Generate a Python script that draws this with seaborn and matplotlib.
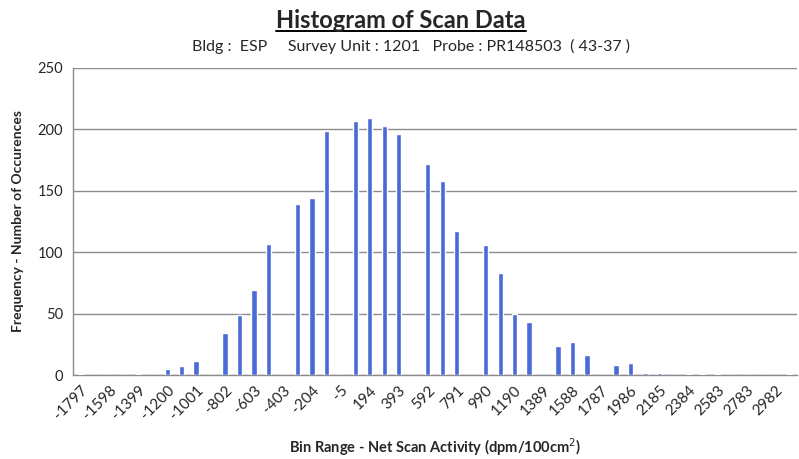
import matplotlib
matplotlib.use("Agg")
import matplotlib.pyplot as plt
import seaborn as sns
import pandas as pd
from matplotlib.lines import Line2D

bins = [-1797, -1697, -1598, -1498, -1399, -1299, -1200, -1100, -1001, -901,
        -802, -702, -603, -503, -403, -304, -204, -105, -5, 94,
        194, 293, 393, 492, 592, 691, 791, 890, 990, 1090,
        1190, 1289, 1389, 1488, 1588, 1687, 1787, 1886, 1986, 2085,
        2185, 2284, 2384, 2483, 2583, 2683, 2783, 2882, 2982, 3081]
counts = [1, 0, 0, 0, 1, 0, 5, 7, 11, 0,
          34, 49, 69, 107, 0, 139, 144, 199, 0, 207,
          209, 203, 196, 0, 172, 158, 117, 0, 106, 83,
          50, 43, 0, 24, 27, 16, 0, 8, 10, 2,
          2, 0, 1, 1, 1, 0, 0, 0, 0, 1]
yticks = [0, 50, 100, 150, 200, 250]

sns.set_theme(style="white")
plt.rcParams['font.family'] = ['Lato', 'DejaVu Sans']

labels = [str(b) for b in bins]
df = pd.DataFrame({"bin": labels, "count": counts})

fig = plt.figure(figsize=(7.99, 4.59), dpi=100)
ax = fig.add_axes([0.0914, 0.183, 0.906, 0.669])

sns.barplot(data=df, x="bin", y="count", order=labels, color="#4a6ad6",
            width=0.36, saturation=1, ax=ax, zorder=3)

ax.set_ylim(0, 250)
ax.set_yticks(yticks)
ax.set_yticklabels([str(t) for t in yticks], fontsize=10.5)
ax.set_xlim(-0.5, len(bins) - 0.5)
ax.yaxis.grid(True, color="#8c8c8c", linewidth=1.0, zorder=0)
ax.xaxis.grid(False)

ax.set_xticks(range(len(bins)))
ax.set_xticklabels([l if i % 2 == 0 else "" for i, l in enumerate(labels)],
                   rotation=45, ha="right", rotation_mode="anchor", fontsize=11)
ax.tick_params(axis="x", which="major", length=0, pad=6)
ax.set_xticks([i - 0.5 for i in range(len(bins) + 1)], minor=True)
ax.tick_params(axis="x", which="minor", length=4, color="#8c8c8c", width=0.8)
ax.tick_params(axis="y", length=4, color="#8c8c8c", width=0.8, pad=3)

for s in ["top", "right"]:
    ax.spines[s].set_visible(False)
for s in ["left", "bottom"]:
    ax.spines[s].set_color("#8c8c8c")
    ax.spines[s].set_linewidth(1.0)

ax.set_xlabel("Bin Range - Net Scan Activity (dpm/100cm$^{2}$)", fontsize=10.5,
              fontweight="bold", labelpad=10)
ax.set_ylabel("Frequency - Number of Occurences", fontsize=10, fontweight="bold",
              labelpad=10)

t = fig.text(0.502, 0.955, "Histogram of Scan Data", ha="center", va="center",
             fontsize=17, fontweight="bold")
fig.canvas.draw()
bb = t.get_window_extent()
fig.add_artist(Line2D([bb.x0 / fig.bbox.width, bb.x1 / fig.bbox.width],
                      [(bb.y0 + 1) / fig.bbox.height] * 2, color="black",
                      linewidth=1.4, transform=fig.transFigure))
fig.text(0.514, 0.898, "Bldg :  ESP     Survey Unit : 1201   Probe : PR148503  ( 43-37 )",
         ha="center", va="center", fontsize=11.5)

fig.savefig("out.png", dpi=100)
